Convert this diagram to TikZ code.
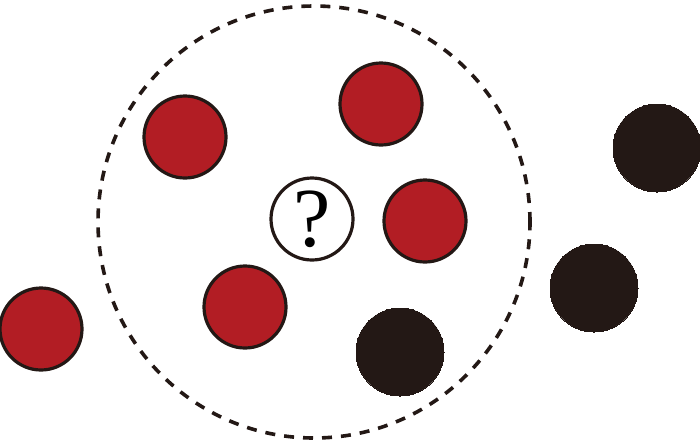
\documentclass[tikz,border=0pt]{standalone}
\usepackage{fontspec}
\setmainfont{Liberation Serif}
\usetikzlibrary{positioning}
\definecolor{ballred}{RGB}{178,29,36}
\definecolor{ballblack}{RGB}{35,24,21}

\begin{document}
\begin{tikzpicture}[
  x=1pt,y=-1pt,
  ball/.style={circle,draw=ballblack,line width=3.2pt,minimum size=82pt,inner sep=0pt},
  redball/.style={ball,fill=ballred},
  blackball/.style={ball,fill=ballblack,draw=ballblack,line width=0pt,minimum size=88pt},
  query/.style={ball,fill=white,font=\fontsize{84}{84}\selectfont},
  region/.style={circle,draw=ballblack,dash pattern=on 10pt off 9pt,line width=3.6pt,minimum size=432pt,inner sep=0pt}
]
\useasboundingbox (0,0) rectangle (700,445);
\node[region] (nbhd) at (314,222) {};
% labelled points
\node[redball] (r1) at (185,137) {};
\node[redball] (r2) at (381,104) {};
\node[redball] (r3) at (425,221) {};
\node[redball] (r4) at (245,307) {};
\node[redball] (r5) at (41,329) {};
\node[blackball] (b1) at (400,352) {};
\node[blackball] (b2) at (594,288) {};
\node[blackball] (b3) at (657,148) {};
% unknown point
\node[query] (q) at (312,219) {?};
\end{tikzpicture}
\end{document}
